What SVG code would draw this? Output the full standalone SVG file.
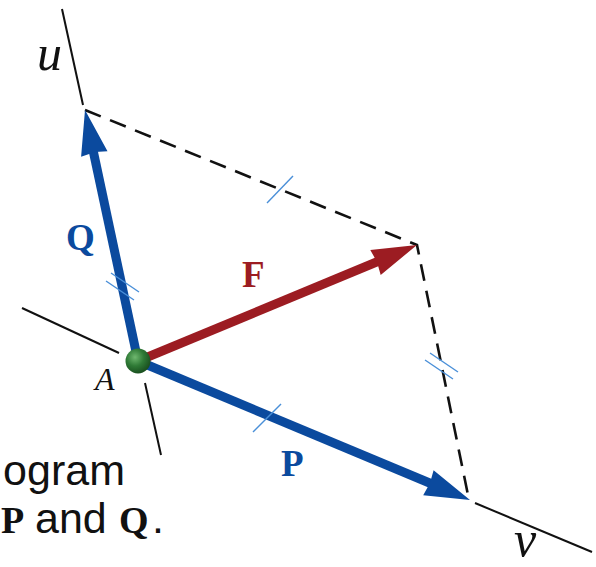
<svg xmlns="http://www.w3.org/2000/svg" width="596" height="567" viewBox="0 0 596 567">
<defs>
<radialGradient id="ball" cx="0.38" cy="0.35" r="0.7">
<stop offset="0" stop-color="#6fb86f"/>
<stop offset="0.5" stop-color="#2f7a36"/>
<stop offset="1" stop-color="#174a1c"/>
</radialGradient>
<style>
.axis{stroke:#111;stroke-width:2;fill:none;stroke-linecap:butt}
.dash{stroke:#111;stroke-width:2.6;fill:none;stroke-dasharray:17 10}
.tick{stroke:#4a8fd8;stroke-width:1.4;fill:none}
.blue{stroke:#0b4a9e;stroke-width:9;fill:none}
.red{stroke:#9c1c22;stroke-width:9;fill:none}
.bhead{fill:#0b4a9e}
.rhead{fill:#9c1c22}
.lbl{font-family:"Liberation Serif","Times New Roman",serif;font-weight:bold;font-size:37px}
.math{font-family:"Liberation Serif","Times New Roman",serif;font-style:italic;fill:#111}
.cap{font-family:"Liberation Sans",Arial,sans-serif;font-size:43px;fill:#111}
.capb{font-family:"Liberation Serif","Times New Roman",serif;font-weight:bold;font-size:38px;fill:#111}
</style>
</defs>
<rect width="596" height="567" fill="#fff"/>
<g id="axes">
<line class="axis" x1="62" y1="9" x2="83" y2="105"/>
<line class="axis" x1="145" y1="383" x2="161" y2="455"/>
<line class="axis" x1="22" y1="308" x2="119" y2="353"/>
<line class="axis" x1="475" y1="503" x2="592" y2="552"/>
</g>
<g id="connectors">
<polyline class="dash" points="85,110 417,245 469,500"/>
<line class="tick" x1="267" y1="203" x2="293" y2="176"/>
<line class="tick" x1="430" y1="353" x2="458" y2="372"/>
<line class="tick" x1="425" y1="360" x2="453" y2="379"/>
</g>
<g id="vector-Q">
<line class="blue" x1="138" y1="361" x2="93" y2="150"/>
<polygon class="bhead" points="85,110 107.5,151.2 95,152 81.1,156.8"/>
<line class="tick" x1="111" y1="273" x2="139" y2="292"/>
<line class="tick" x1="106" y1="281" x2="134" y2="300"/>
<text class="lbl" x="66" y="250" fill="#0b4a9e">Q</text>
</g>
<g id="vector-P">
<line class="blue" x1="138" y1="361" x2="432" y2="484"/>
<polygon class="bhead" points="470,500 433.6,470.2 430,483 423.2,495.2"/>
<line class="tick" x1="253" y1="432" x2="281" y2="404"/>
<text class="lbl" x="281" y="476" fill="#0b4a9e">P</text>
</g>
<g id="vector-F">
<line class="red" x1="138" y1="361" x2="379" y2="261"/>
<polygon class="rhead" points="417,245 380.7,274.9 377,262 370.3,249.9"/>
<text class="lbl" x="242" y="287" fill="#9c1c22">F</text>
</g>
<g id="point-A">
<circle cx="138" cy="361" r="12.5" fill="url(#ball)"/>
<text class="math" x="95" y="390" font-size="32">A</text>
</g>
<g id="axis-labels">
<text class="math" x="37" y="70" font-size="50">u</text>
<text class="math" x="514" y="556" font-size="50">v</text>
</g>
<g id="caption">
<text class="cap" x="125" y="485" text-anchor="end">ogram</text>
<text class="capb" x="1" y="533">P</text>
<text class="cap" x="35" y="533">and</text>
<text class="capb" x="119" y="533">Q</text>
<text class="cap" x="152" y="533">.</text>
</g>
</svg>
